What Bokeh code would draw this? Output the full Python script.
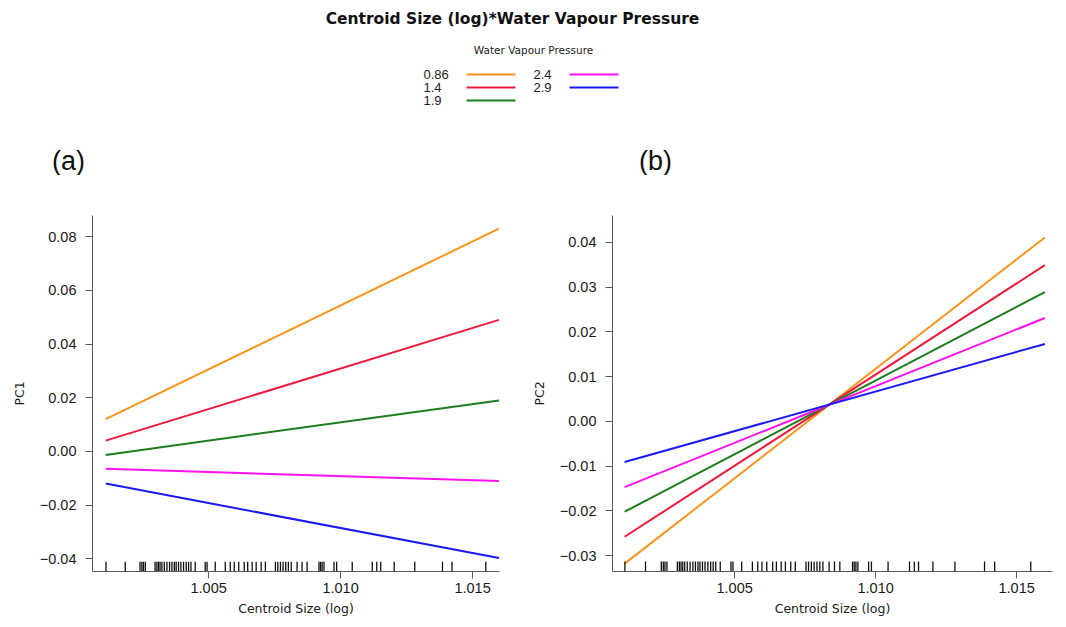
from bokeh.plotting import figure
from bokeh.layouts import column, row
from bokeh.models import Range1d, FixedTicker
from bokeh.core.properties import value
from bokeh.embed import file_html
from bokeh.resources import INLINE

# ---------------- data ----------------
title_text = "Centroid Size (log)*Water Vapour Pressure"
legend_title = "Water Vapour Pressure"
wvp_levels = ["0.86", "1.4", "1.9", "2.4", "2.9"]
colors = ["#F7941D", "#EE1A3C", "#1E7D1E", "#FF10F0", "#1A1AF2"]

x_fit = [1.0011, 1.0160]
pc1_start = [0.012, 0.004, -0.0013, -0.0065, -0.012]
pc1_end = [0.083, 0.049, 0.019, -0.011, -0.0397]
pc2_start = [-0.0318, -0.0258, -0.0202, -0.0147, -0.0091]
pc2_end = [0.0411, 0.0349, 0.0289, 0.0231, 0.0173]

rug_x = [1.00111, 1.00184, 1.0024, 1.00247, 1.00253, 1.0026, 1.00297, 1.00304,
         1.0031, 1.00316, 1.00323, 1.00332, 1.00342, 1.00352, 1.00361, 1.0037,
         1.00377, 1.00386, 1.00395, 1.00405, 1.00415, 1.00424, 1.00433, 1.00449,
         1.00487, 1.00494, 1.00525, 1.00563, 1.00582, 1.00597, 1.00614, 1.00635,
         1.00648, 1.00665, 1.0068, 1.00699, 1.00715, 1.00753, 1.00762, 1.00772,
         1.00782, 1.00792, 1.00802, 1.00813, 1.00835, 1.00854, 1.00873, 1.00918,
         1.00924, 1.0093, 1.00937, 1.00975, 1.00985, 1.01044, 1.0112, 1.01137,
         1.01152, 1.01203, 1.01281, 1.01386, 1.01422, 1.0155]

x_ticks = [1.005, 1.010, 1.015]
pc1_ticks = [-0.04, -0.02, 0.0, 0.02, 0.04, 0.06, 0.08]
pc2_ticks = [-0.03, -0.02, -0.01, 0.0, 0.01, 0.02, 0.03, 0.04]
panel_tags = ["(a)", "(b)"]
x_label = "Centroid Size (log)"

AXIS_COL = "#5a5a5a"
TICK_FONT = "Liberation Sans"
LABEL_FONT = "DejaVu Sans"

# ---------------- top header (title + legend + panel tags) ----------------
TOP_W, TOP_H = 1058, 175
top = figure(width=TOP_W, height=TOP_H, x_range=Range1d(0, TOP_W), y_range=Range1d(TOP_H, 0),
             x_axis_type=None, y_axis_type=None, toolbar_location=None,
             output_backend="svg", min_border=0, outline_line_color=None)
top.grid.visible = False

top.text(x=[512], y=[18], text=[title_text], text_font=value(LABEL_FONT),
         text_font_style="bold", text_font_size="15.5px", text_align="center",
         text_baseline="middle", text_color="#111111")
top.text(x=[533], y=[49], text=[legend_title], text_font=value(LABEL_FONT),
         text_font_size="10.5px", text_align="center", text_baseline="middle",
         text_color="#222222")

lab_x0 = [423, 533]
line_x0 = [466, 569]
line_len = 49
row_y = [74, 87, 100]
lx, ly, x0s, x1s = [], [], [], []
for i, lev in enumerate(wvp_levels):
    c, r = i // 3, i % 3
    lx.append(lab_x0[c]); ly.append(row_y[r])
    x0s.append(line_x0[c]); x1s.append(line_x0[c] + line_len)
top.text(x=lx, y=ly, text=wvp_levels, text_font=value(TICK_FONT), text_font_size="13px",
         text_align="left", text_baseline="middle", text_color="#222222")
top.segment(x0=x0s, y0=ly, x1=x1s, y1=ly, line_color=colors, line_width=2)

top.text(x=[68, 655], y=[160, 160], text=panel_tags, text_font=value(TICK_FONT),
         text_font_size="27px", text_align="center", text_baseline="middle",
         text_color="#111111")


def style_panel(p, yticks, ylabel):
    p.xgrid.visible = False
    p.ygrid.visible = False
    p.outline_line_color = None
    for ax in (p.xaxis[0], p.yaxis[0]):
        ax.axis_line_color = AXIS_COL
        ax.axis_line_width = 1
        ax.major_tick_line_color = AXIS_COL
        ax.minor_tick_line_color = None
        ax.major_tick_in = 0
        ax.major_tick_out = 7
        ax.major_label_text_font = TICK_FONT
        ax.major_label_text_font_size = "14.5px"
        ax.major_label_text_color = "#1a1a1a"
        ax.axis_label_text_font = LABEL_FONT
        ax.axis_label_text_font_size = "12.5px"
        ax.axis_label_text_font_style = "normal"
        ax.axis_label_text_color = "#1a1a1a"
    p.xaxis[0].ticker = FixedTicker(ticks=x_ticks)
    p.xaxis[0].major_label_overrides = {t: f"{t:.3f}" for t in x_ticks}
    p.xaxis[0].major_label_standoff = 4
    p.xaxis[0].axis_label = x_label
    p.xaxis[0].axis_label_standoff = 5
    p.yaxis[0].ticker = FixedTicker(ticks=yticks)
    p.yaxis[0].major_label_overrides = {t: f"{t:.2f}".replace("-", "\u2212") for t in yticks}
    p.yaxis[0].major_label_standoff = 9
    p.yaxis[0].axis_label = ylabel
    p.yaxis[0].axis_label_standoff = 10


def draw_panel(p, starts, ends, rug_len):
    xs = [x_fit for _ in starts]
    ys = [[s, e] for s, e in zip(starts, ends)]
    p.multi_line(xs=xs, ys=ys, line_color=colors, line_width=2)
    ybot = p.y_range.start
    p.segment(x0=rug_x, y0=[ybot] * len(rug_x), x1=rug_x, y1=[ybot + rug_len] * len(rug_x),
              line_color="#111111", line_width=1.3)


# ---------------- panel (a) ----------------
ya = Range1d(-0.04475, 0.0879)
pa = figure(width=528, height=444, x_range=Range1d(1.0006, 1.01602), y_range=ya,
            toolbar_location=None, output_backend="svg",
            min_border_left=92, min_border_right=29, min_border_top=32, min_border_bottom=48)
style_panel(pa, pc1_ticks, "PC1")
draw_panel(pa, pc1_start, pc1_end, (ya.end - ya.start) / 364 * 10)

# ---------------- panel (b) ----------------
yb = Range1d(-0.03356, 0.046)
pb = figure(width=530, height=444, x_range=Range1d(1.00067, 1.01627), y_range=yb,
            toolbar_location=None, output_backend="svg",
            min_border_left=84, min_border_right=6, min_border_top=40, min_border_bottom=46)
style_panel(pb, pc2_ticks, "PC2")
draw_panel(pb, pc2_start, pc2_end, (yb.end - yb.start) / 358 * 10)

layout = column(top, row(pa, pb))
open("out.html", "w").write(file_html(layout, INLINE))
